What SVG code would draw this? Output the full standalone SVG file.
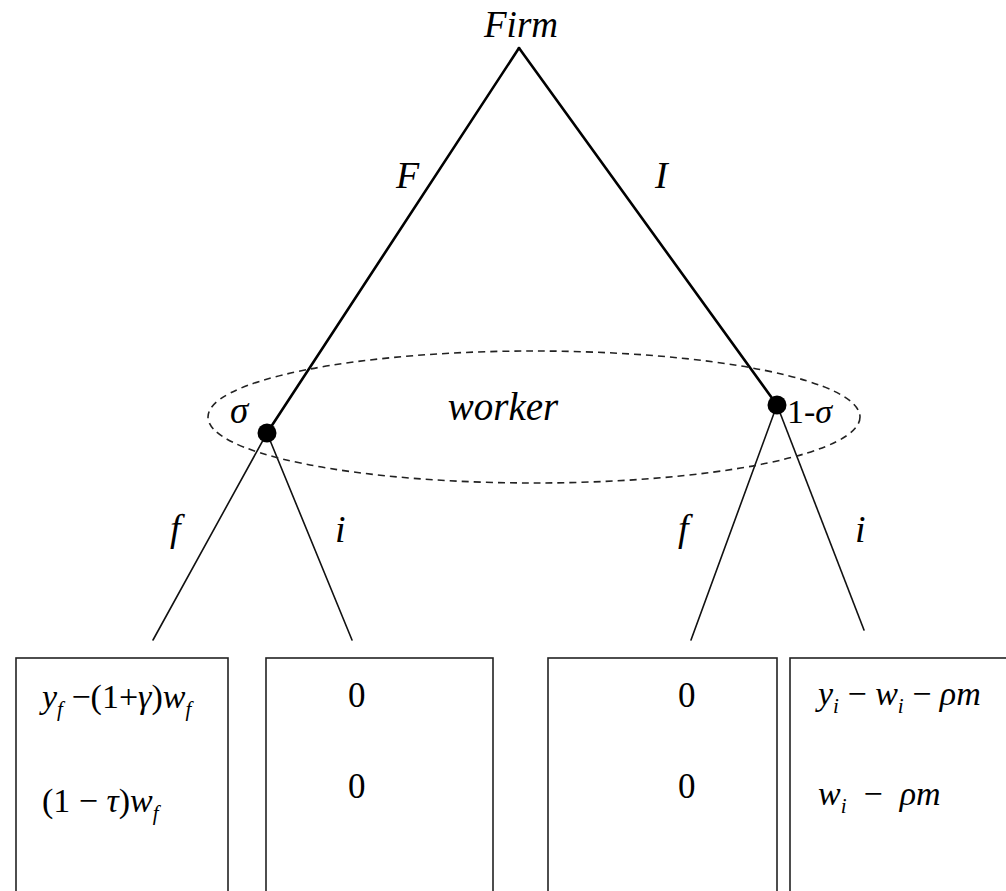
<svg xmlns="http://www.w3.org/2000/svg" width="1006" height="891" viewBox="0 0 1006 891">
<style>
.t{font-family:"Liberation Serif","Times New Roman",serif;font-size:34px;fill:#000}
.it{font-style:italic}
.lb{font-size:38px;font-style:italic}
.sub{font-size:21px;font-style:italic}
.main{stroke:#000;stroke-width:2.6;fill:none;stroke-linecap:round}
.thin{stroke:#111;stroke-width:1.6;fill:none;stroke-linecap:round}
.box{stroke:#222;stroke-width:1.6;fill:#fff}
.info{stroke:#222;stroke-width:1.6;fill:none;stroke-dasharray:7 5}
</style>
<rect width="1006" height="891" fill="#fff"/>
<g id="connectors">
<line class="main" x1="519" y1="48" x2="267" y2="433"/>
<line class="main" x1="519" y1="48" x2="777" y2="405"/>
<line class="thin" x1="267" y1="433" x2="153" y2="640"/>
<line class="thin" x1="267" y1="433" x2="352" y2="640"/>
<line class="thin" x1="777" y1="405" x2="691" y2="640"/>
<line class="thin" x1="777" y1="405" x2="864" y2="630"/>
<text class="t lb" x="396" y="188">F</text>
<text class="t lb" x="655" y="188">I</text>
<text class="t lb" x="170" y="541">f</text>
<text class="t lb" x="335" y="542">i</text>
<text class="t lb" x="678" y="541">f</text>
<text class="t lb" x="855" y="542">i</text>
</g>
<g id="info-set">
<ellipse class="info" cx="534" cy="417" rx="326" ry="66"/>
<text class="t it" x="503" y="420" text-anchor="middle" style="font-size:39px">worker</text>
</g>
<g id="firm">
<text class="t it" x="521" y="37" text-anchor="middle" style="font-size:37px">Firm</text>
</g>
<g id="node-left">
<circle cx="267" cy="433" r="9.5" fill="#000"/>
<text class="t it" x="230" y="423" style="font-size:37px">σ</text>
</g>
<g id="node-right">
<circle cx="777" cy="405" r="9.5" fill="#000"/>
<text class="t" x="787" y="423">1-<tspan class="it">σ</tspan></text>
</g>
<g id="payoff-ff">
<rect class="box" x="16" y="658" width="212" height="260"/>
<text class="t" x="42" y="708"><tspan class="it">y</tspan><tspan class="sub" dy="8">f</tspan><tspan dy="-8"> −(1+</tspan><tspan class="it">γ</tspan>)<tspan class="it">w</tspan><tspan class="sub" dy="8">f</tspan></text>
<text class="t" x="42" y="812">(1 − <tspan class="it">τ</tspan>)<tspan class="it">w</tspan><tspan class="sub" dy="8">f</tspan></text>
</g>
<g id="payoff-fi">
<rect class="box" x="266" y="658" width="227" height="260"/>
<text class="t" x="348" y="707" style="font-size:35px">0</text>
<text class="t" x="348" y="798" style="font-size:35px">0</text>
</g>
<g id="payoff-if">
<rect class="box" x="548" y="658" width="229" height="260"/>
<text class="t" x="678" y="707" style="font-size:35px">0</text>
<text class="t" x="678" y="798" style="font-size:35px">0</text>
</g>
<g id="payoff-ii">
<rect class="box" x="790" y="658" width="240" height="260"/>
<text class="t" x="818" y="705"><tspan class="it">y</tspan><tspan class="sub" dy="8">i</tspan><tspan dy="-8"> − </tspan><tspan class="it">w</tspan><tspan class="sub" dy="8">i</tspan><tspan dy="-8"> −  </tspan><tspan class="it">ρm</tspan></text>
<text class="t" x="818" y="805"><tspan class="it">w</tspan><tspan class="sub" dy="8">i</tspan><tspan dy="-8" xml:space="preserve">  −  </tspan><tspan class="it">ρm</tspan></text>
</g>
</svg>
